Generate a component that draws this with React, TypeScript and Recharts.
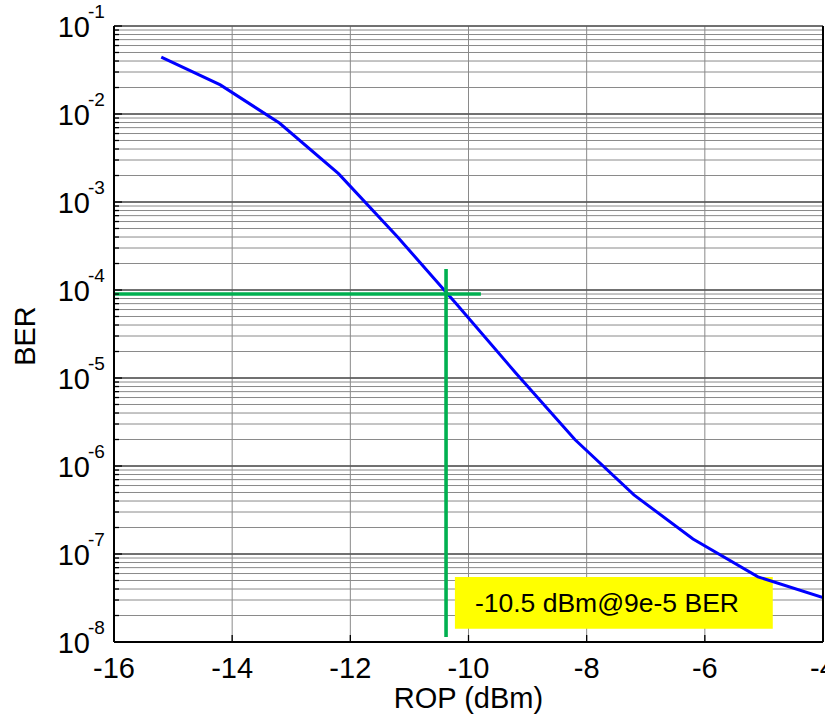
import {
  LineChart,
  Line,
  XAxis,
  YAxis,
  CartesianGrid,
  ReferenceLine,
  ReferenceArea,
} from "recharts";

// measured curve (ROP in dBm, BER)
const ROP = [-15.2, -14.2, -13.2, -12.2, -11.2, -10.2, -9.2, -8.2, -7.2, -6.2, -5.1, -4.0];
const BER = [0.0444, 0.0214, 0.0079, 0.0021, 4.0e-4, 6.9e-5, 1.14e-5, 2.0e-6, 4.7e-7, 1.48e-7, 5.5e-8, 3.2e-8];

const X_TICKS = [-16, -14, -12, -10, -8, -6, -4];
const DECADE_EXP = [-8, -7, -6, -5, -4, -3, -2, -1];
const MINOR_STEPS = [2, 3, 4, 5, 6, 7, 8, 9];

// marker at the 9e-5 BER threshold
const H_MARK = [
  { x: -16, y: 9e-5 },
  { x: -9.79, y: 9e-5 },
];
const V_MARK = [
  { x: -10.38, y: 1.73e-4 },
  { x: -10.38, y: 1.14e-8 },
];
const NOTE_X = [-10.23, -4.85];
const NOTE_Y = [1.41e-8, 5.48e-8];
const NOTE_TEXT = "-10.5 dBm@9e-5 BER";

const DECADES = DECADE_EXP.map((e) => Math.pow(10, e));
const Y_TICKS: number[] = [];
DECADES.forEach((d, i) => {
  Y_TICKS.push(d);
  if (i < DECADES.length - 1) MINOR_STEPS.forEach((m) => Y_TICKS.push(m * d));
});

const data = ROP.map((r, i) => ({ rop: r, ber: BER[i] }));

const FONT = "'Liberation Sans', Arial, Helvetica, sans-serif";

function isMajor(v: number) {
  const e = Math.round(Math.log10(v));
  return Math.abs(v / Math.pow(10, e) - 1) < 1e-6;
}

function LeftTick(props: any) {
  const { x, y, payload } = props;
  const v = payload.value as number;
  const major = isMajor(v);
  const exp = Math.round(Math.log10(v));
  return (
    <g>
      <line x1={x} x2={x + (major ? 8 : 5)} y1={y} y2={y} stroke="#000" strokeWidth={1.3} />
      {major && (
        <>
          <text x={x - 24} y={y + 11} textAnchor="end" fontSize={29} fill="#000">
            10
          </text>
          <text x={x - 26} y={y - 8} fontSize={19} fill="#000">
            {exp}
          </text>
        </>
      )}
    </g>
  );
}

function RightTick(props: any) {
  const { x, y, payload } = props;
  const major = isMajor(payload.value as number);
  return <line x1={x} x2={x - (major ? 8 : 5)} y1={y} y2={y} stroke="#000" strokeWidth={1.3} />;
}

function BottomTick(props: any) {
  const { x, y, payload } = props;
  return (
    <g>
      <line x1={x} x2={x} y1={y} y2={y - 7} stroke="#000" strokeWidth={1.3} />
      <text x={x} y={y + 36} textAnchor="middle" fontSize={29} fill="#000">
        {payload.value}
      </text>
    </g>
  );
}

function TopTick(props: any) {
  const { x, y } = props;
  return <line x1={x} x2={x} y1={y} y2={y + 7} stroke="#000" strokeWidth={1.3} />;
}

export default function App() {
  return (
    <div style={{ position: "absolute", left: 0, top: 0, fontFamily: FONT, background: "#fff" }}>
      <LineChart width={825} height={717} data={data} margin={{ top: 26, right: 0, bottom: 0, left: 0 }}>
        <CartesianGrid stroke="#8a8a8a" strokeWidth={1} />
        {DECADES.map((d) => (
          <ReferenceLine key={d} y={d} stroke="#555" strokeWidth={1.5} />
        ))}
        <XAxis
          dataKey="rop"
          type="number"
          domain={[-16, -4]}
          ticks={X_TICKS}
          interval={0}
          height={75}
          tickSize={0}
          tickMargin={0}
          tick={<BottomTick />}
          axisLine={{ stroke: "#000", strokeWidth: 2 }}
          allowDataOverflow
          label={{ value: "ROP (dBm)", position: "insideBottom", offset: 9, fontSize: 29, fill: "#000" }}
        />
        <XAxis
          xAxisId="top"
          orientation="top"
          type="number"
          domain={[-16, -4]}
          ticks={X_TICKS}
          interval={0}
          height={0}
          tickSize={0}
          tickMargin={0}
          tick={<TopTick />}
          axisLine={{ stroke: "#000", strokeWidth: 2 }}
        />
        <YAxis
          scale="log"
          type="number"
          domain={[1e-8, 1e-1]}
          ticks={Y_TICKS}
          interval={0}
          width={114}
          tickSize={0}
          tickMargin={0}
          tick={<LeftTick />}
          axisLine={{ stroke: "#000", strokeWidth: 2 }}
          allowDataOverflow
          label={{
            value: "BER",
            content: (p: any) => {
              const vb = p.viewBox;
              const cx = vb.x + 25;
              const cy = vb.y + vb.height / 2 + 2;
              return (
                <text
                  x={cx}
                  y={cy}
                  transform={`rotate(-90 ${cx} ${cy})`}
                  textAnchor="middle"
                  dominantBaseline="central"
                  fontSize={29}
                  fill="#000"
                >
                  BER
                </text>
              );
            },
          }}
        />
        <YAxis
          yAxisId="right"
          orientation="right"
          scale="log"
          type="number"
          domain={[1e-8, 1e-1]}
          ticks={Y_TICKS}
          interval={0}
          width={2}
          tickSize={0}
          tickMargin={0}
          tick={<RightTick />}
          axisLine={{ stroke: "#000", strokeWidth: 2 }}
        />
        <Line
          type="linear"
          dataKey="ber"
          stroke="#0000ff"
          strokeWidth={3}
          dot={false}
          isAnimationActive={false}
        />
        <ReferenceLine segment={H_MARK} stroke="#00b050" strokeWidth={3.6} />
        <ReferenceLine segment={V_MARK} stroke="#00b050" strokeWidth={3.6} />
        <ReferenceArea
          x1={NOTE_X[0]}
          x2={NOTE_X[1]}
          y1={NOTE_Y[0]}
          y2={NOTE_Y[1]}
          fill="#ffff00"
          fillOpacity={1}
          stroke="none"
          label={{ value: NOTE_TEXT, position: "insideLeft", offset: 20, fontSize: 26.5, fill: "#000" }}
        />
      </LineChart>
    </div>
  );
}
